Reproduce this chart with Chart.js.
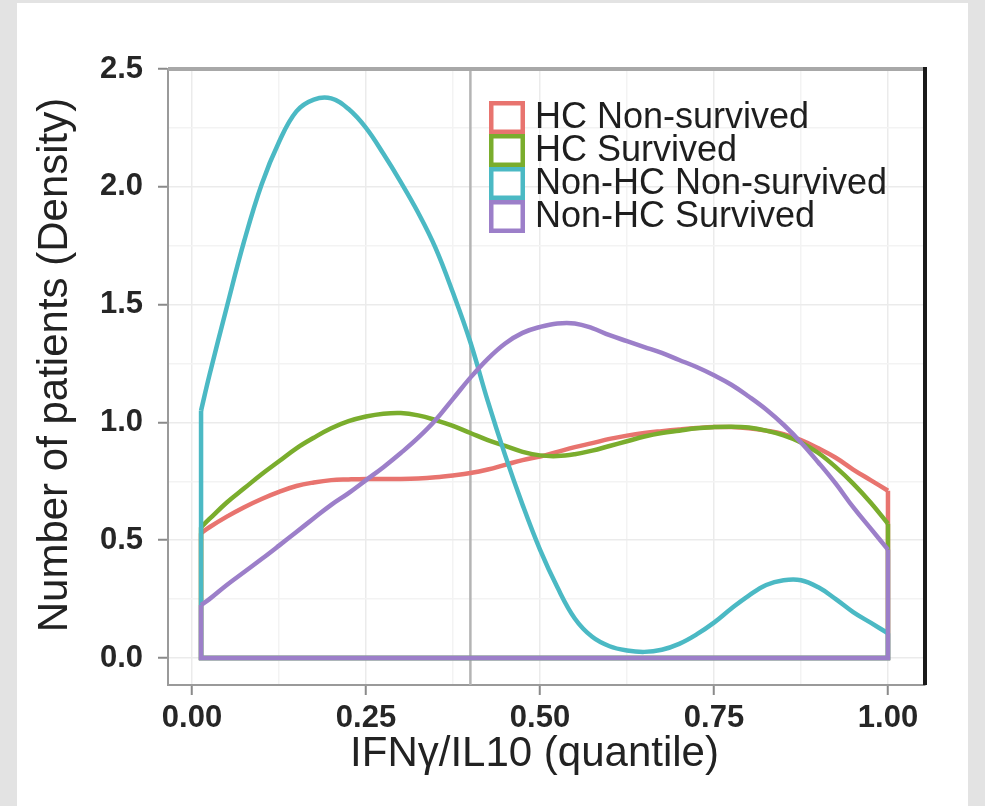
<!DOCTYPE html>
<html>
<head>
<meta charset="utf-8">
<title>IFNγ/IL10 density</title>
<script src="https://cdn.jsdelivr.net/npm/chart.js@4.4.1/dist/chart.umd.min.js"></script>
<style>
  html, body { margin: 0; padding: 0; background: #e3e3e3; overflow: hidden; }
  #panel { position: absolute; left: 17px; top: 3px; width: 951px; height: 803px; background: #ffffff; }
  #chart { position: absolute; left: 0; top: 0; }
</style>
</head>
<body>
<div id="panel"></div>
<canvas id="chart" width="985" height="806"></canvas>
<script>
// x grid shared by all four density curves (quantile of IFNy/IL10)
const quantileX = [0.013, 0.025, 0.05, 0.075, 0.10, 0.125, 0.15, 0.175, 0.20, 0.225,
                   0.25, 0.275, 0.30, 0.325, 0.35, 0.375, 0.40, 0.425, 0.45, 0.475,
                   0.50, 0.525, 0.55, 0.575, 0.60, 0.625, 0.65, 0.675, 0.70, 0.725,
                   0.75, 0.775, 0.80, 0.825, 0.85, 0.875, 0.90, 0.925, 0.95, 0.975, 1.00];

// densities
const hcNonSurvived = [0.53, 0.555, 0.60, 0.64, 0.675, 0.705, 0.73, 0.745, 0.755, 0.758,
                       0.76, 0.76, 0.76, 0.762, 0.767, 0.775, 0.785, 0.80, 0.82, 0.84,
                       0.855, 0.875, 0.895, 0.912, 0.93, 0.944, 0.955, 0.963, 0.97, 0.976,
                       0.98, 0.98, 0.975, 0.965, 0.95, 0.925, 0.89, 0.85, 0.80, 0.755, 0.71];
const hcSurvived = [0.555, 0.59, 0.66, 0.72, 0.78, 0.835, 0.89, 0.935, 0.975, 1.005,
                    1.025, 1.037, 1.04, 1.03, 1.01, 0.985, 0.955, 0.925, 0.90, 0.875,
                    0.86, 0.857, 0.865, 0.88, 0.90, 0.92, 0.94, 0.955, 0.965, 0.975,
                    0.98, 0.982, 0.978, 0.965, 0.945, 0.915, 0.87, 0.81, 0.74, 0.66, 0.57];
const nonHcNonSurvived = [1.05, 1.20, 1.49, 1.77, 2.01, 2.19, 2.32, 2.37, 2.375, 2.33,
                          2.25, 2.14, 2.02, 1.89, 1.74, 1.55, 1.34, 1.09, 0.86, 0.65,
                          0.46, 0.30, 0.168, 0.09, 0.05, 0.032, 0.026, 0.035, 0.06, 0.10,
                          0.15, 0.21, 0.265, 0.31, 0.33, 0.33, 0.30, 0.25, 0.195, 0.15, 0.105];
const nonHcSurvived = [0.225, 0.25, 0.31, 0.365, 0.42, 0.477, 0.535, 0.593, 0.65, 0.70,
                       0.755, 0.81, 0.87, 0.935, 1.01, 1.10, 1.19, 1.27, 1.335, 1.38,
                       1.405, 1.42, 1.42, 1.40, 1.37, 1.345, 1.32, 1.295, 1.265, 1.235,
                       1.20, 1.16, 1.11, 1.055, 0.99, 0.915, 0.83, 0.74, 0.64, 0.55, 0.46];

const seriesLabels = ["HC Non-survived", "HC Survived", "Non-HC Non-survived", "Non-HC Survived"];
const seriesValues = [hcNonSurvived, hcSurvived, nonHcNonSurvived, nonHcSurvived];
const seriesColors = ["#e8746f", "#7aad2d", "#4bb9c4", "#9c7fc9"];

const xTitle = "IFNγ/IL10 (quantile)";
const yTitle = "Number of patients (Density)";

const cutoffX = 0.4;

const xMajorTicks = [0, 0.25, 0.5, 0.75, 1];
const xMinorTicks = [0.125, 0.375, 0.625, 0.875];
const yMajorTicks = [0, 0.5, 1, 1.5, 2, 2.5];
const yMinorTicks = [0.25, 0.75, 1.25, 1.75, 2.25];

const xMin = -0.0345, xMax = 1.0532;
const yMin = -0.1146, yMax = 2.5;

const FONT = "'Liberation Sans', Arial, sans-serif";

function curvePoints(values) {
    return quantileX.map((x, i) => ({ x: x, y: values[i] }));
}

// the closed bottom of a geom_density outline: up/down edges and baseline
function basePoints(values) {
    const last = quantileX.length - 1;
    return [
        { x: quantileX[0], y: values[0] },
        { x: quantileX[0], y: 0 },
        { x: quantileX[last], y: 0 },
        { x: quantileX[last], y: values[last] }
    ];
}

const datasets = [];
seriesValues.forEach((values, i) => {
    const drawOrder = 10 - i * 2; // last series on top
    datasets.push({
        label: seriesLabels[i],
        data: curvePoints(values),
        showLine: true,
        borderColor: seriesColors[i],
        borderWidth: 4.5,
        pointRadius: 0,
        tension: 0.4,
        order: drawOrder
    });
    datasets.push({
        label: seriesLabels[i] + " base",
        data: basePoints(values),
        showLine: true,
        borderColor: seriesColors[i],
        borderWidth: 4.5,
        borderJoinStyle: "miter",
        pointRadius: 0,
        tension: 0,
        order: drawOrder
    });
});

datasets.push({
    label: "cutoff",
    data: [{ x: cutoffX, y: yMin }, { x: cutoffX, y: yMax }],
    showLine: true,
    borderColor: "#b4b4b4",
    borderWidth: 2.5,
    pointRadius: 0,
    order: 20
});

function sortedTicks(a, b) {
    return a.concat(b).sort((p, q) => p - q).map(v => ({ value: v }));
}

const frameAndLegend = {
    id: "frameAndLegend",
    afterDraw(chart) {
        const ctx = chart.ctx;
        const area = chart.chartArea;
        ctx.save();

        // top border (gray) and right border (black)
        ctx.strokeStyle = "#a8a8a8";
        ctx.lineWidth = 4;
        ctx.beginPath();
        ctx.moveTo(area.left, area.top);
        ctx.lineTo(area.right, area.top);
        ctx.stroke();

        ctx.strokeStyle = "#1a1a1a";
        ctx.lineWidth = 4;
        ctx.beginPath();
        ctx.moveTo(area.right, area.top - 2);
        ctx.lineTo(area.right, area.bottom);
        ctx.stroke();

        // axis titles (ggplot centres them a little left / above the panel centre here)
        ctx.fillStyle = "#222222";
        ctx.font = "42px " + FONT;
        ctx.textAlign = "center";
        ctx.textBaseline = "middle";
        ctx.fillText(xTitle, (area.left + area.right) / 2 - 12, 754);
        ctx.save();
        ctx.translate(55, (area.top + area.bottom) / 2 - 12);
        ctx.rotate(-Math.PI / 2);
        ctx.fillText(yTitle, 0, 0);
        ctx.restore();

        // legend inside the panel
        const boxLeft = area.left + 321;
        const boxTop = area.top + 32;
        const rowH = 33;
        const boxW = 36;
        ctx.font = "36px " + FONT;
        ctx.textBaseline = "middle";
        ctx.textAlign = "left";
        seriesLabels.forEach((label, i) => {
            const y = boxTop + i * rowH;
            ctx.fillStyle = "#ffffff";
            ctx.fillRect(boxLeft, y, boxW, rowH);
            ctx.strokeStyle = seriesColors[i];
            ctx.lineWidth = 4.5;
            ctx.strokeRect(boxLeft + 2.25, y + 2.25, boxW - 4.5, rowH - 4.5);
            ctx.fillStyle = "#1e1e1e";
            ctx.fillText(label, boxLeft + 46, y + rowH / 2 + 1);
        });
        ctx.restore();
    }
};

new Chart(document.getElementById("chart"), {
    type: "scatter",
    data: { datasets: datasets },
    plugins: [frameAndLegend],
    options: {
        responsive: false,
        animation: false,
        events: [],
        layout: { padding: { top: 69, right: 60, bottom: 0, left: 0 } },
        plugins: {
            legend: { display: false },
            tooltip: { enabled: false }
        },
        scales: {
            x: {
                type: "linear",
                min: xMin,
                max: xMax,
                afterFit: (scale) => { scale.height = 121; },
                afterBuildTicks: (scale) => { scale.ticks = sortedTicks(xMajorTicks, xMinorTicks); },
                grid: {
                    color: (c) => xMajorTicks.includes(c.tick.value) ? "#ebebeb" : "#f3f3f3",
                    lineWidth: 1.5,
                    tickLength: 10,
                    tickWidth: 2,
                    tickColor: (c) => xMajorTicks.includes(c.tick.value) ? "#8a8a8a" : "rgba(0,0,0,0)"
                },
                border: { color: "#9a9a9a", width: 2 },
                ticks: {
                    autoSkip: false,
                    maxRotation: 0,
                    padding: 5,
                    color: "#262626",
                    font: { family: FONT, size: 31, weight: "bold" },
                    callback: (v) => xMajorTicks.includes(v) ? v.toFixed(2) : ""
                },
                title: { display: false }
            },
            y: {
                type: "linear",
                min: yMin,
                max: yMax,
                afterFit: (scale) => { scale.width = 168; },
                afterBuildTicks: (scale) => { scale.ticks = sortedTicks(yMajorTicks, yMinorTicks); },
                grid: {
                    color: (c) => yMajorTicks.includes(c.tick.value) ? "#ebebeb" : "#f3f3f3",
                    lineWidth: 1.5,
                    tickLength: 10,
                    tickWidth: 2,
                    tickColor: (c) => yMajorTicks.includes(c.tick.value) ? "#8a8a8a" : "rgba(0,0,0,0)"
                },
                border: { color: "#9a9a9a", width: 2 },
                ticks: {
                    autoSkip: false,
                    padding: 15,
                    color: "#262626",
                    font: { family: FONT, size: 31, weight: "bold" },
                    callback: (v) => yMajorTicks.includes(v) ? v.toFixed(1) : ""
                },
                title: { display: false }
            }
        }
    }
});
</script>
</body>
</html>
